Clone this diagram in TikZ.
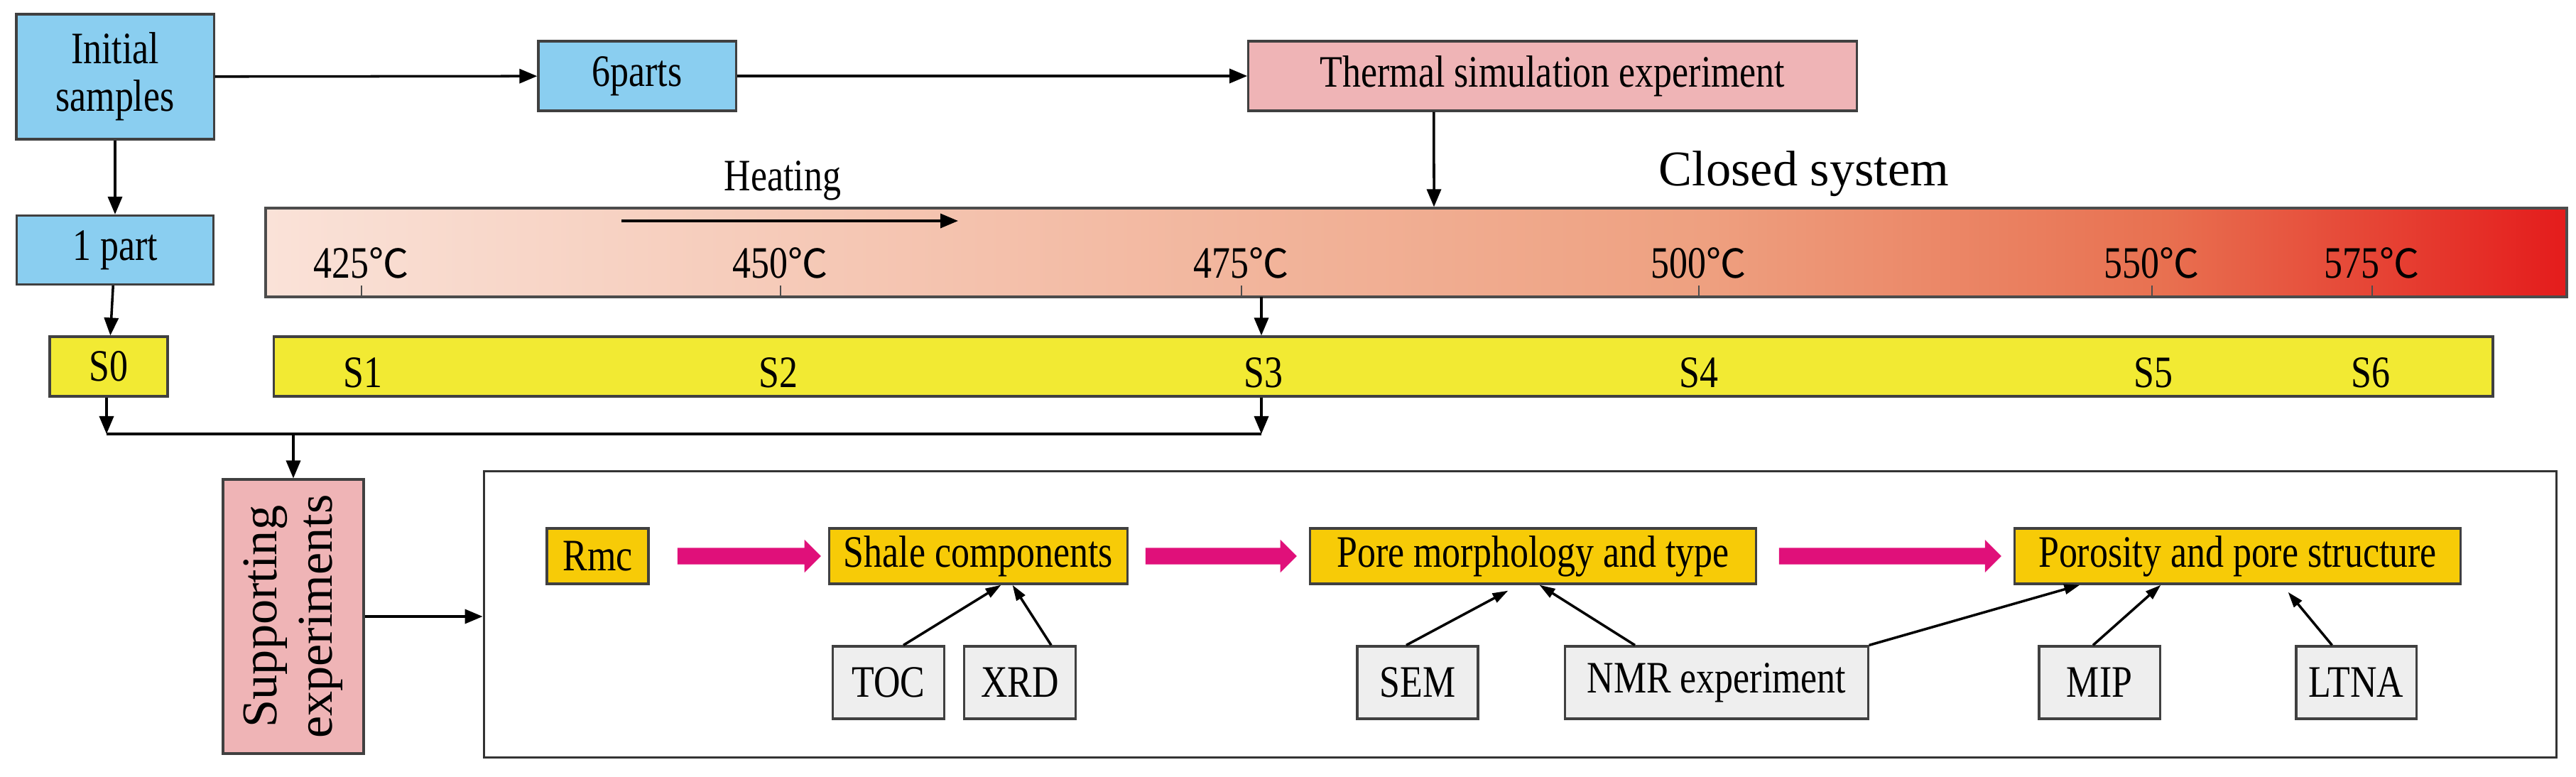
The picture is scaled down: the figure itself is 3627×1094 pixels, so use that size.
\documentclass[tikz,border=0pt]{standalone}
\usepackage{fontspec}
\setmainfont{Liberation Serif}[FakeStretch=0.82]
\newfontfamily\widefont{Liberation Serif}
\newfontfamily\cjk{Noto Sans CJK SC}
\usepackage{xcolor}
\usetikzlibrary{shapes.arrows, arrows.meta, positioning}
\definecolor{skyfill}{RGB}{138,206,240}
\definecolor{stagefill}{RGB}{242,234,51}
\definecolor{goldfill}{RGB}{247,203,7}
\definecolor{rosefill}{RGB}{239,180,182}
\definecolor{greyfill}{RGB}{238,238,238}
\definecolor{magentaarrow}{RGB}{224,16,122}
\definecolor{heatlow}{RGB}{250,226,216}
\definecolor{heatmid}{RGB}{238,160,128}
\definecolor{heatdeep}{RGB}{232,112,80}
\definecolor{heathigh}{RGB}{228,28,28}
\newcommand{\degc}{{\cjk\fontsize{16}{17}\selectfont ℃}}

\begin{document}
\begin{tikzpicture}[x=0.01cm, y=-0.01cm,
        box/.style={rectangle, draw=black!75, line width=0.9pt, inner sep=0pt, align=center, font=\fontsize{18}{19}\selectfont},
        sample/.style={box, fill=skyfill},
        stage/.style={box, fill=stagefill},
        result/.style={box, fill=goldfill, minimum height=0.78cm},
        method/.style={box, fill=greyfill, minimum height=1.02cm},
        arrow/.style={-{Triangle[length=0.25cm, width=0.2cm]}, line width=1pt},
        thin arrow/.style={-{Triangle[length=0.22cm, width=0.14cm]}, line width=1pt},
        fat arrow/.style={single arrow, fill=magentaarrow, draw=none, minimum height=#1, minimum width=0.45cm, single arrow head extend=0.115cm, inner xsep=0pt, inner ysep=0.11cm}
    ]
        \useasboundingbox (0,0) rectangle (3627,1094);

        % sample preparation
        \node[sample, minimum width=2.78cm, minimum height=1.76cm] (initial) at (162,108) {Initial\\samples};
        \node[sample, minimum width=2.78cm, minimum height=0.98cm] (sixparts) at (897,107) {6parts};
        \node[box, fill=rosefill, minimum width=8.56cm, minimum height=0.98cm] (thermal) at (2186,107) {Thermal simulation experiment};
        \node[sample, minimum width=2.77cm, minimum height=0.97cm] (onepart) at (162,352) {1 part};

        % heating bar
        \shade[left color=heatlow, right color=heatmid] (375,293) rectangle (2400,418);
        \shade[left color=heatmid, right color=heatdeep] (2400,293) rectangle (3050,418);
        \shade[left color=heatdeep, right color=heathigh] (3050,293) rectangle (3613,418);
        \node[box, draw=black!70, minimum width=32.38cm, minimum height=1.25cm] (bar) at (1994,355.5) {};
        \node[font=\fontsize{18}{19}\selectfont] (heating) at (1102,254) {Heating};
        \node[font=\widefont\fontsize{20}{21}\selectfont] (closed) at (2540,245) {Closed system};
        \coordinate (heatstart) at (875,311);
        \coordinate (heatend) at (1349,311);
        \draw[arrow] (heatstart) -- (heatend);
        \foreach \t/\x in {425/509, 450/1099, 475/1748, 500/2392, 550/3030, 575/3340} {
            \coordinate (tick\t) at (\x,418);
            \draw[black!70, line width=0.6pt] (tick\t) -- ++(0,-16);
            \node[font=\fontsize{18}{19}\selectfont] (temp\t) at (\x,370) {\t\degc};
        }

        % stages
        \node[stage, minimum width=1.66cm, minimum height=0.84cm] (s0) at (153,516) {S0};
        \node[stage, minimum width=31.23cm, minimum height=0.84cm] (stages) at (1947.5,516) {};
        \foreach \s/\x in {1/511, 2/1096, 3/1779, 4/2392, 5/3032, 6/3338}
            \node[font=\fontsize{18}{19}\selectfont] (s\s) at (\x,525) {S\s};

        % supporting experiments
        \node[box, fill=rosefill, minimum width=1.98cm, minimum height=3.67cm, font=\widefont\fontsize{20}{22}\selectfont] (supporting) at (413,868) {\rotatebox{90}{\begin{tabular}{c}Supporting\\experiments\end{tabular}}};
        \node[box, draw=black!80, minimum width=29.17cm, minimum height=4.02cm] (frame) at (2140.5,865) {};
        \coordinate (joinleft) at (150,611);
        \coordinate (joinright) at (1776,611);
        \coordinate (joinsup) at (413,611);
        \coordinate (barthree) at (1776,418);

        \node[result, minimum width=1.43cm] (rmc) at (841.5,783) {Rmc};
        \node[result, minimum width=4.19cm] (shale) at (1377.5,783) {Shale components};
        \node[result, minimum width=6.27cm] (pore) at (2158.5,783) {Pore morphology and type};
        \node[result, minimum width=6.27cm] (porosity) at (3150.5,783) {Porosity and pore structure};
        \node[fat arrow=2.02cm] (push1) at (1049,783) {};
        \node[fat arrow=2.13cm] (push2) at (1713.5,783) {};
        \node[fat arrow=3.13cm] (push3) at (2655.5,783) {};

        \node[method, minimum width=1.57cm] (toc) at (1251,961) {TOC};
        \node[method, minimum width=1.57cm] (xrd) at (1436,961) {XRD};
        \node[method, minimum width=1.70cm] (sem) at (1996,961) {SEM};
        \node[method, minimum width=4.26cm] (nmr) at (2417,961) {NMR experiment};
        \node[method, minimum width=1.70cm] (mip) at (2956,961) {MIP};
        \node[method, minimum width=1.69cm] (ltna) at (3317.5,961) {LTNA};

        % connectors
        \draw[arrow] (initial) -- (sixparts);
        \draw[arrow] (sixparts) -- (thermal);
        \draw[arrow] ([xshift=-1.67cm]thermal.south) -- ([xshift=0.25cm]bar.north);
        \draw[arrow] (initial) -- (onepart);
        \draw[arrow] (onepart) -- (s0);
        \draw[arrow] (barthree) -- (barthree |- stages.north);
        \draw[arrow] (s0.south -| joinleft) -- (joinleft);
        \draw[arrow] (stages.south -| joinright) -- (joinright);
        \draw[line width=1.2pt] (joinleft) -- (joinright);
        \draw[arrow] (joinsup) -- (supporting.north);
        \draw[arrow] (supporting) -- (supporting -| frame.west);

        \draw[thin arrow] ([xshift=0.21cm]toc.north) -- ([xshift=0.32cm]shale.south);
        \draw[thin arrow] ([xshift=0.44cm]xrd.north) -- ([xshift=0.48cm]shale.south);
        \draw[thin arrow] ([xshift=-0.16cm]sem.north) -- ([xshift=-0.35cm, yshift=-0.08cm]pore.south);
        \draw[thin arrow] ([xshift=-1.15cm]nmr.north) -- ([xshift=0.09cm]pore.south);
        \draw[thin arrow] (nmr.north east) -- ([xshift=-2.22cm]porosity.south);
        \draw[thin arrow] ([xshift=-0.09cm]mip.north) -- ([xshift=-1.08cm]porosity.south);
        \draw[thin arrow] ([xshift=-0.34cm]ltna.north) -- ([xshift=0.71cm, yshift=-0.1cm]porosity.south);
    \end{tikzpicture}
\end{document}
